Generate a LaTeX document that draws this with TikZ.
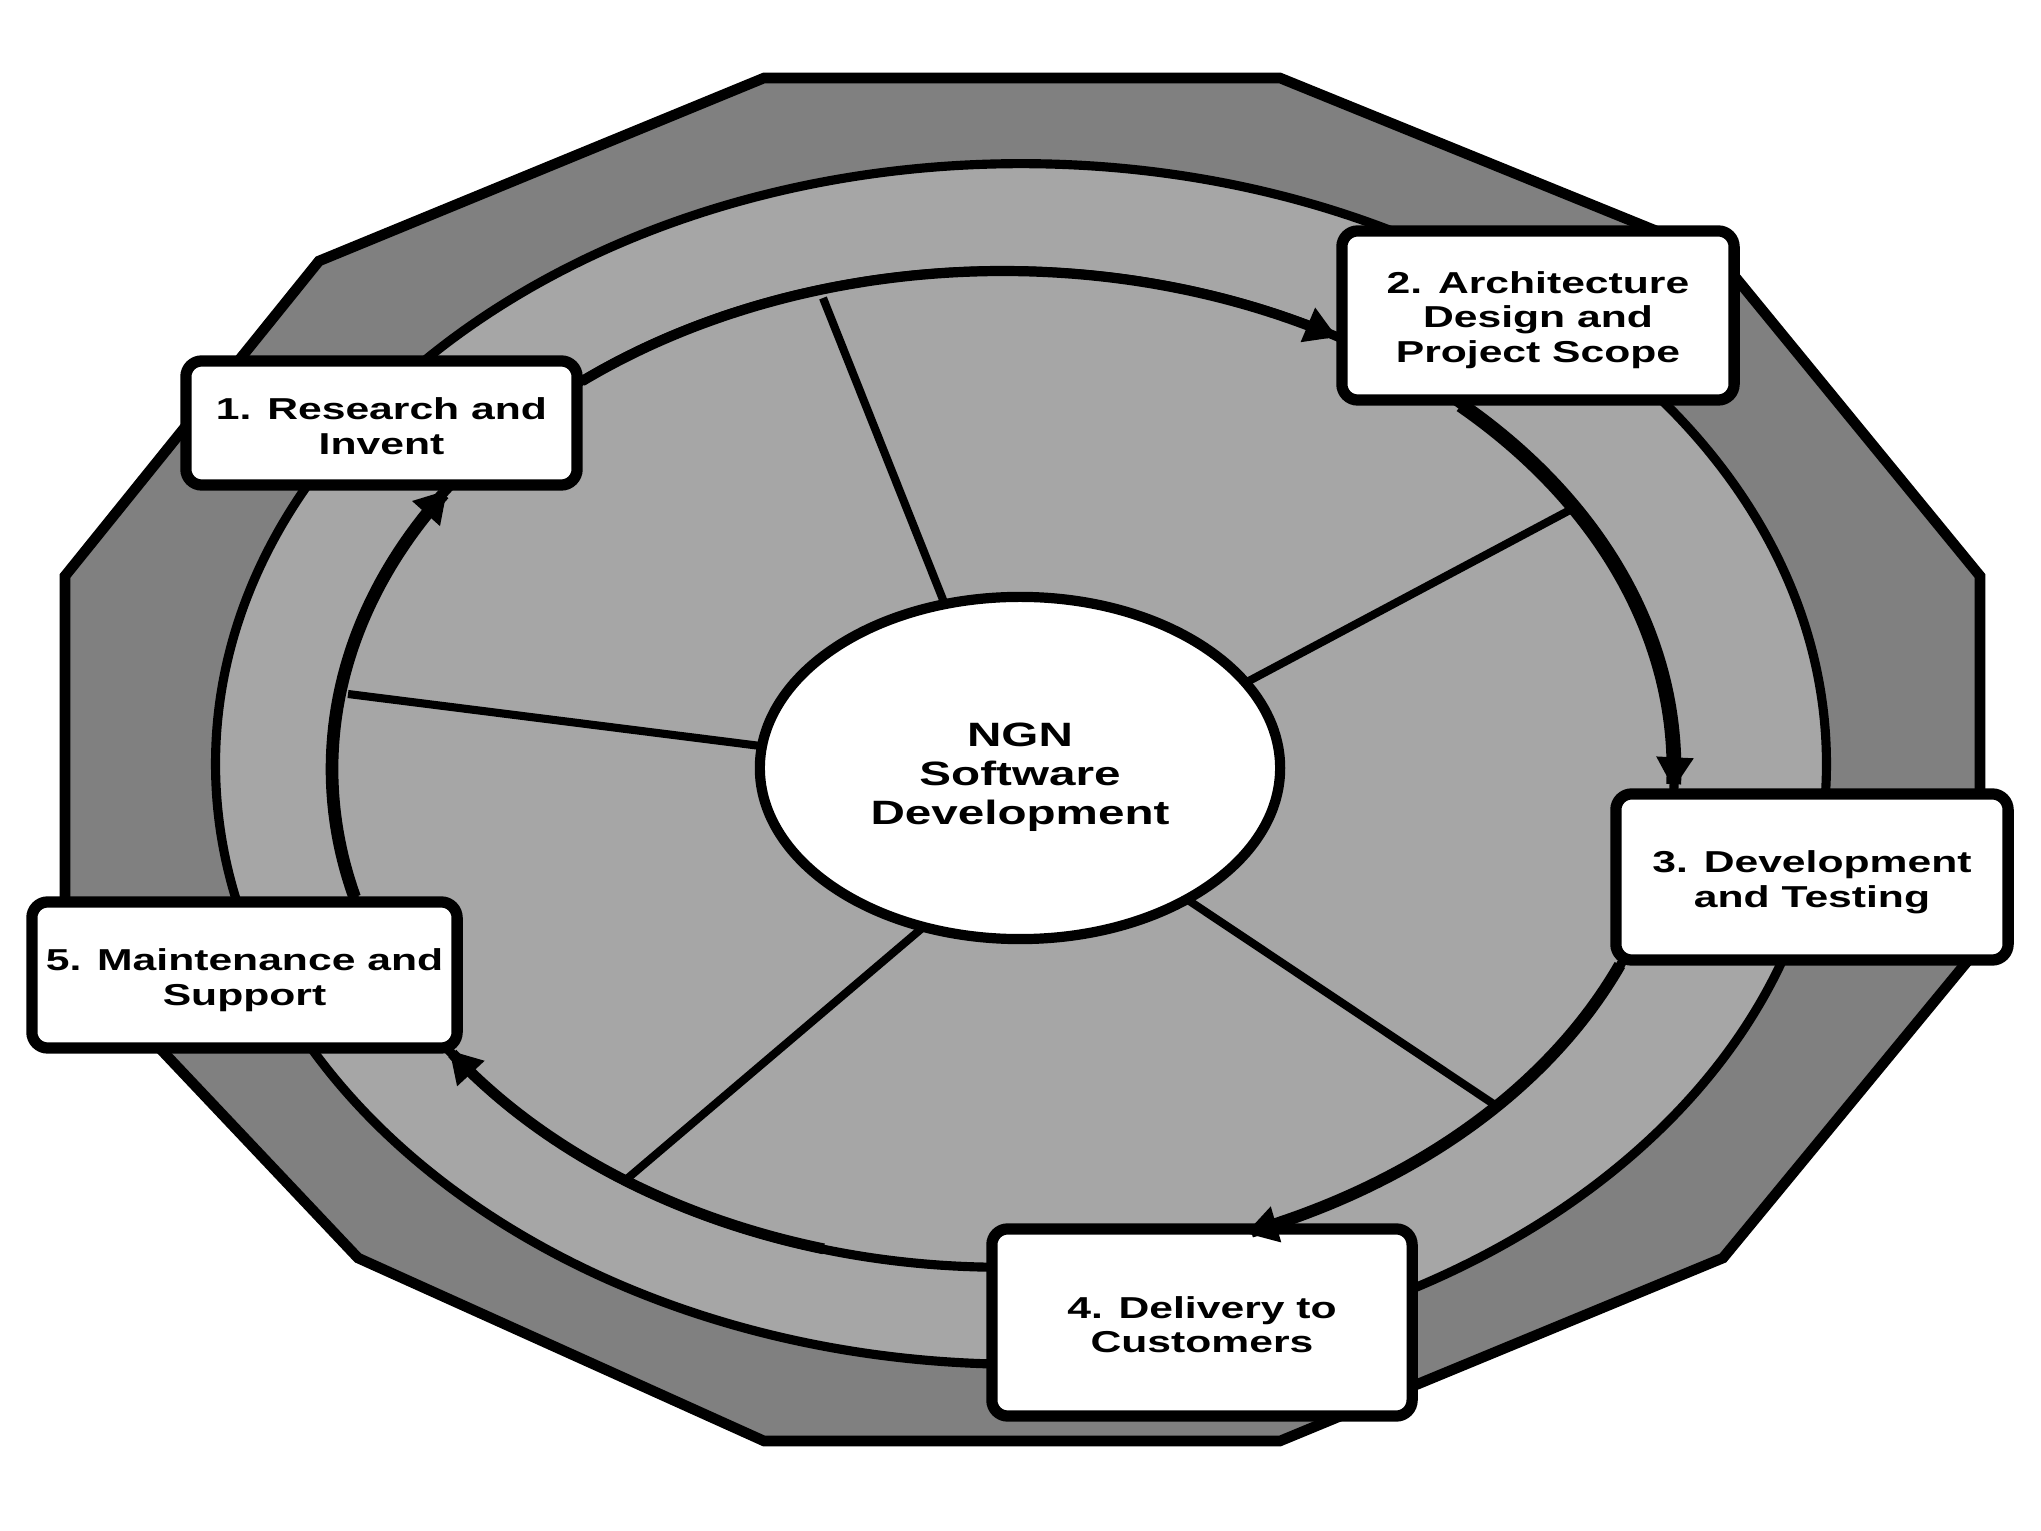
\documentclass[tikz,border=0pt]{standalone}
\usepackage{fontspec}
\newfontfamily\boxfont{Liberation Sans}[FakeStretch=1.41]
\usetikzlibrary{arrows.meta,shapes.geometric}
\definecolor{darkfill}{RGB}{128,128,128}
\definecolor{lightfill}{RGB}{166,166,166}
\newcommand\firstlift[1]{\rule{0pt}{#1}}
\begin{document}
\begin{tikzpicture}[x=0.01cm,y=-0.01cm,
  stage/.style={draw=black, line width=3.2pt, fill=white, rounded corners=4.5pt,
    inner sep=0pt, align=center, font=\boxfont\bfseries\fontsize{8.6}{9.8}\selectfont},
  core/.style={ellipse, draw=black, line width=2.9pt, fill=white, inner sep=0pt,
    minimum width=5.2cm, minimum height=3.42cm, align=center,
    font=\boxfont\bfseries\fontsize{9.6}{11.1}\selectfont},
  spoke/.style={line width=2.3pt, draw=black},
  flow/.style={draw=black, line width=#1, -{Triangle[length=9pt,width=10pt]}},
  ring/.style={draw=black, line width=2.6pt, fill=lightfill}]
\useasboundingbox (0,0) rectangle (2041,1531);
% outer polygon
\draw[line width=3pt, fill=darkfill, line join=miter]
  (764,78) -- (1280,78) -- (1718,256) -- (1980,576) -- (1980,946) -- (1723,1258)
  -- (1280,1441) -- (764,1441) -- (358,1258) -- (65,948) -- (65,576) -- (319,261) -- cycle;
% rings
\draw[ring] (1021,764) ellipse [x radius=8.05cm, y radius=6cm];
\draw[ring] (1003,769) ellipse [x radius=6.71cm, y radius=4.98cm];
% spokes
\coordinate (k1a) at (967,660);  \coordinate (k1b) at (823,298);
\coordinate (k2a) at (1185,715); \coordinate (k2b) at (1570,510);
\coordinate (k3a) at (1134,864); \coordinate (k3b) at (1495,1105);
\coordinate (k4a) at (974,884);  \coordinate (k4b) at (628,1178);
\coordinate (k5a) at (840,756);  \coordinate (k5b) at (348,694);
\draw[spoke] (k1a) -- (k1b);
\draw[spoke] (k2a) -- (k2b);
\draw[spoke] (k3a) -- (k3b);
\draw[spoke] (k4a) -- (k4b);
\draw[spoke] (k5a) -- (k5b);
% centre
\node[core] (core) at (1020,768) {\firstlift{12pt}NGN\\Software\\Development};
% stages
\node[stage, minimum width=3.91cm, minimum height=1.24cm] (s1) at (381.5,423) {\firstlift{8pt}1. Research and\\Invent};
\node[stage, minimum width=3.92cm, minimum height=1.69cm] (s2) at (1538,315.5) {\firstlift{8.9pt}2. Architecture\\Design and\\Project Scope};
\node[stage, minimum width=3.92cm, minimum height=1.66cm] (s3) at (1812,877) {\firstlift{9.3pt}3. Development\\and Testing};
\node[stage, minimum width=4.20cm, minimum height=1.87cm] (s4) at (1202,1322.5) {\firstlift{7.6pt}4. Delivery to\\Customers};
\node[stage, minimum width=4.25cm, minimum height=1.46cm] (s5) at (244.5,975) {\firstlift{9.3pt}5. Maintenance and\\Support};
% flow arrows along the inner ring
\draw[flow=2.9pt] plot[domain=-128.86:-60.14, samples=90] ({1003+671*cos(\x)}, {769+498*sin(\x)});
\draw[flow=4.2pt] plot[domain=-46.96:2.3, samples=90] ({1003+671*cos(\x)}, {769+498*sin(\x)});
\draw[flow=3.4pt] plot[domain=23.18:68.8, samples=90] ({1003+671*cos(\x)}, {769+498*sin(\x)});
\draw[flow=3.1pt] plot[domain=105.5:145.6, samples=90] ({1003+671*cos(\x)}, {769+498*sin(\x)});
\draw[flow=3.6pt] plot[domain=165.1:214.07, samples=90] ({1003+671*cos(\x)}, {769+498*sin(\x)});
\end{tikzpicture}
\end{document}
